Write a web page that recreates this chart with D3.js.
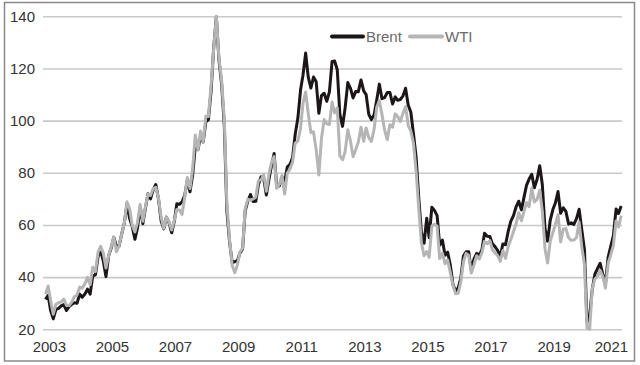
<!DOCTYPE html>
<html>
<head>
<meta charset="utf-8">
<script src="https://cdn.jsdelivr.net/npm/d3@7"></script>
<style>
  html, body { margin: 0; padding: 0; background: #fff; }
  svg { display: block; }
  text { font-family: "Liberation Sans", Arial, sans-serif; }
</style>
</head>
<body>
<svg id="chart" width="640" height="365"></svg>
<script>
// ---- Data (monthly, Jan 2003 – Apr 2021, US$ per barrel) ----
const startMonth = "2003-01";
const seriesNames = ["Brent", "WTI"];
const brent = [
  31.5, 33.0, 27.2, 24.0, 27.6, 28.0, 29.0, 29.5, 27.2, 28.7, 29.6, 30.2,
  30.0, 33.5, 32.3, 33.5, 35.4, 33.5, 40.5, 40.9, 47.9, 50.2, 46.0, 40.2,
  48.2, 51.3, 55.3, 51.9, 51.9, 56.5, 60.6, 68.0, 62.5, 59.4, 54.5, 58.9,
  66.5, 60.5, 66.0, 72.0, 70.0, 73.5, 75.5, 70.0, 61.5, 58.5, 63.0, 60.9,
  57.0, 61.5, 68.1, 67.9, 68.9, 71.4, 77.1, 72.7, 79.2, 90.0, 88.9, 93.9,
  91.8, 99.6, 100.3, 111.4, 127.8, 139.8, 123.3, 114.1, 98.2, 65.3, 53.5, 45.6,
  45.9, 46.4, 49.2, 50.8, 65.4, 69.3, 71.7, 69.0, 69.1, 75.4, 78.5, 77.9,
  71.5, 77.6, 82.7, 87.4, 74.6, 75.0, 78.4, 76.7, 82.3, 83.2, 85.9, 94.8,
  101.0, 111.8, 117.4, 125.9, 116.7, 112.5, 116.7, 114.9, 102.8, 109.6, 110.5, 107.4,
  111.0, 122.7, 122.9, 119.5, 102.4, 97.8, 104.9, 114.6, 112.4, 108.7, 111.2, 111.1,
  115.6, 111.4, 110.0, 102.4, 100.4, 102.2, 107.7, 114.0, 108.4, 108.8, 110.8, 110.8,
  106.4, 109.1, 107.8, 108.1, 109.4, 112.4, 106.0, 103.2, 94.7, 85.9, 70.2, 57.3,
  53.0, 62.6, 55.1, 66.8, 65.6, 63.6, 52.2, 54.2, 48.4, 49.6, 44.6, 37.3,
  34.7, 36.0, 39.6, 48.1, 49.7, 49.7, 42.5, 47.0, 49.1, 48.3, 50.5, 56.8,
  55.7, 55.6, 52.8, 51.7, 50.3, 47.9, 52.7, 52.4, 57.5, 61.4, 63.6, 66.9,
  69.1, 65.8, 70.3, 75.2, 77.6, 79.4, 74.3, 77.4, 82.7, 75.5, 58.7, 53.8,
  61.9, 66.0, 68.4, 72.8, 64.5, 66.6, 65.2, 60.4, 60.8, 60.2, 62.4, 66.0,
  58.2, 50.5, 22.7, 25.3, 35.3, 41.2, 43.3, 45.3, 41.0, 37.5, 47.6, 51.8,
  55.9, 66.1, 64.4, 67.3
];
const wti = [
  33.5, 36.6, 31.0, 25.8, 29.6, 30.2, 30.5, 31.6, 29.2, 29.1, 30.4, 32.5,
  33.1, 36.2, 35.8, 37.4, 39.9, 37.1, 43.8, 42.1, 49.6, 51.8, 49.1, 43.5,
  48.2, 51.8, 55.4, 49.7, 52.0, 56.5, 60.6, 68.9, 66.2, 59.8, 57.3, 61.0,
  67.9, 61.4, 66.6, 71.9, 71.3, 73.9, 74.4, 70.3, 62.9, 58.7, 63.0, 61.1,
  58.1, 61.8, 65.9, 65.7, 64.0, 70.7, 78.2, 74.0, 81.7, 94.5, 88.7, 96.0,
  91.8, 101.8, 101.6, 113.5, 127.4, 140.0, 124.1, 115.5, 100.6, 68.1, 54.4, 44.6,
  41.7, 44.8, 49.7, 51.1, 66.3, 69.9, 69.5, 70.0, 70.6, 77.0, 77.3, 79.4,
  72.9, 79.7, 83.8, 86.2, 74.0, 75.6, 79.0, 71.9, 80.0, 81.4, 84.1, 91.4,
  92.2, 97.0, 106.7, 111.0, 102.7, 95.4, 95.7, 88.8, 79.2, 93.2, 100.4, 98.8,
  98.5, 107.1, 103.0, 104.9, 86.5, 85.0, 88.1, 96.5, 92.2, 86.2, 88.9, 91.8,
  97.5, 92.1, 97.2, 93.5, 92.0, 96.6, 105.0, 107.7, 102.3, 96.4, 92.7, 98.4,
  97.5, 102.6, 101.6, 99.7, 102.7, 105.4, 98.2, 96.0, 91.2, 80.5, 66.2, 53.3,
  48.2, 49.8, 47.6, 59.6, 60.3, 59.5, 47.1, 49.2, 45.1, 46.6, 41.7, 37.0,
  33.6, 33.8, 38.3, 45.9, 49.1, 48.3, 41.6, 44.7, 48.2, 46.9, 49.4, 53.7,
  52.8, 54.0, 50.6, 49.3, 48.3, 46.0, 50.2, 47.2, 51.7, 54.4, 57.4, 60.4,
  64.7, 61.6, 64.9, 68.6, 67.0, 74.2, 68.8, 69.8, 73.3, 65.3, 50.9, 45.4,
  53.8, 57.2, 60.1, 63.9, 53.5, 58.5, 58.6, 55.1, 54.1, 54.2, 55.2, 61.1,
  51.6, 44.8, 20.5, 20.0, 35.5, 39.3, 40.3, 42.6, 40.2, 35.8, 45.3, 48.5,
  52.2, 61.5, 59.2, 63.6
];
const yTicks = [20, 40, 60, 80, 100, 120, 140];
const xTickYears = [2003, 2005, 2007, 2009, 2011, 2013, 2015, 2017, 2019, 2021];

// ---- Layout ----
const svg = d3.select("#chart");
const parseMonth = d3.timeParse("%Y-%m");
const t0 = parseMonth(startMonth);
const dates = brent.map((_, i) => d3.timeMonth.offset(t0, i));

const x = d3.scaleTime()
  .domain([new Date(2003, 0, 1), new Date(2021, 0, 1)])
  .range([45.5, 613.4]);
const y = d3.scaleLinear().domain([20, 140]).range([329.3, 16.3]);

// border
svg.append("rect")
  .attr("x", 4.5).attr("y", 2.5).attr("width", 630).attr("height", 358.5)
  .attr("fill", "none").attr("stroke", "#8a8a8a").attr("stroke-width", 1.5);

// gridlines + y labels
const yAxis = d3.axisLeft(y).tickValues(yTicks).tickSize(-(622 - 43)).tickPadding(8);
const gy = svg.append("g").attr("transform", "translate(43,0)").call(yAxis);
gy.select(".domain").remove();
gy.selectAll(".tick line").attr("stroke", "#c9c9c9").attr("stroke-width", 1.6);
gy.selectAll(".tick text")
  .attr("x", -8)
  .attr("fill", "#333").style("font-size", "15px")
  .style("font-family", "'Liberation Sans', Arial, sans-serif");

// x labels
const xAxis = d3.axisBottom(x)
  .tickValues(xTickYears.map(yr => new Date(yr, 0, 1)))
  .tickFormat(d3.timeFormat("%Y")).tickSize(0).tickPadding(0);
const gx = svg.append("g").attr("transform", "translate(0,341)").call(xAxis);
gx.select(".domain").remove();
gx.selectAll(".tick text")
  .attr("dy", "0.75em")
  .attr("dx", (d, i, n) => i === n.length - 1 ? -2.5 : 3.3)
  .attr("fill", "#333").style("font-size", "15px")
  .style("font-family", "'Liberation Sans', Arial, sans-serif");

// lines
const line = d3.line()
  .x((d, i) => x(dates[i]))
  .y(d => y(d))
  .curve(d3.curveLinear);

svg.append("path").datum(brent)
  .attr("d", line).attr("fill", "none")
  .attr("stroke", "#1c1618").attr("stroke-width", 3)
  .attr("stroke-linejoin", "round");

svg.append("path").datum(wti)
  .attr("d", line).attr("fill", "none")
  .attr("stroke", "#b5b5b5").attr("stroke-width", 3)
  .attr("stroke-linejoin", "round");

// legend
const legend = [
  { name: seriesNames[0], color: "#1c1618", x0: 332, x1: 363, tx: 366 },
  { name: seriesNames[1], color: "#b5b5b5", x0: 410, x1: 442, tx: 445 }
];
const lg = svg.append("g");
legend.forEach(l => {
  lg.append("line").attr("x1", l.x0).attr("x2", l.x1).attr("y1", 36.5).attr("y2", 36.5)
    .attr("stroke", l.color).attr("stroke-width", 4).attr("stroke-linecap", "round");
  lg.append("text").attr("x", l.tx).attr("y", 36.5).attr("dy", "0.36em")
    .attr("fill", "#6a6a6a").style("font-size", "15px").text(l.name);
});
</script>
</body>
</html>
